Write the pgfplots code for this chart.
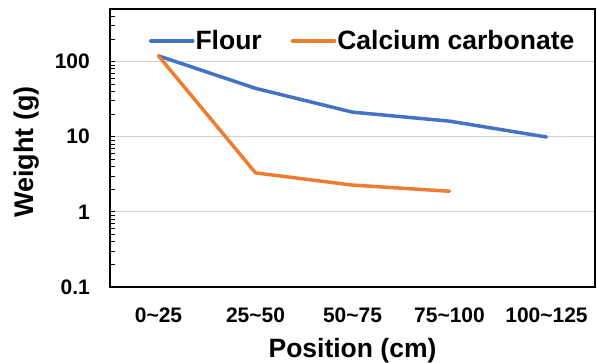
\documentclass[border=0pt]{standalone}
\usepackage{fontspec}
\setmainfont{Liberation Sans}
\usepackage{pgfplots}
\pgfplotsset{compat=1.18}
\definecolor{exblue}{HTML}{4472C4}
\definecolor{exorange}{HTML}{ED7D31}
\definecolor{exgrid}{HTML}{D0D0D0}
\begin{document}
\begin{tikzpicture}
\path[use as bounding box] (0,0) rectangle (597bp,363bp);
\begin{axis}[
  at={(110bp,76bp)}, anchor=south west,
  scale only axis, width=485bp, height=278bp,
  ymode=log, ymin=0.1, ymax=500,
  xmin=-0.5, xmax=4.5,
  xtick={0,1,2,3,4},
  xticklabels={0\textasciitilde25,25\textasciitilde50,50\textasciitilde75,75\textasciitilde100,100\textasciitilde125},
  ytick={0.1,1,10,100},
  yticklabels={0.1,1,10,100},
  minor ytick={0.2,0.3,0.4,0.5,0.6,0.7,0.8,0.9,2,3,4,5,6,7,8,9,20,30,40,50,60,70,80,90,200,300,400,500},
  ytick pos=left,
  tick align=inside,
  major tick length=5bp, minor tick length=5bp,
  ytick style={black, line width=0.8bp},
  xtick style={draw=none},
  ymajorgrids, grid style={exgrid, line width=1.2bp},
  axis line style={black, line width=2.5bp},
  xticklabel style={font=\fontsize{21bp}{24bp}\selectfont\bfseries, anchor=base, yshift=-35bp, inner sep=0pt},
  yticklabel style={font=\fontsize{21bp}{24bp}\selectfont\bfseries, anchor=east, inner sep=0pt, xshift=-20bp},
  xlabel={Position (cm)},
  ylabel={Weight (g)},
  xlabel style={font=\fontsize{26.5bp}{30bp}\selectfont\bfseries, at={(axis description cs:0.5,0)}, anchor=base, yshift=-70bp},
  ylabel style={font=\fontsize{27bp}{30bp}\selectfont\bfseries, at={(axis description cs:-0.171,0.486)}, anchor=center, rotate=0},
  legend columns=2,
  legend style={at={(axis description cs:0.52,0.885)}, anchor=center, draw=none, fill=none,
    font=\fontsize{26.5bp}{30bp}\selectfont\bfseries,
    /tikz/every even column/.append style={column sep=28bp},
    nodes={inner sep=1bp}},
  legend image code/.code={\draw[#1] (0bp,0bp) -- (42bp,0bp);},
]
\addplot[exblue, line width=3.5bp, line join=round, line cap=round] coordinates {(0,119) (1,44) (2,21.2) (3,16.1) (4,9.9)};
\addlegendentry{Flour}
\addplot[exorange, line width=3.5bp, line join=round, line cap=round] coordinates {(0,119) (1,3.3) (2,2.27) (3,1.88)};
\addlegendentry{Calcium carbonate}
\end{axis}
\end{tikzpicture}
\end{document}
